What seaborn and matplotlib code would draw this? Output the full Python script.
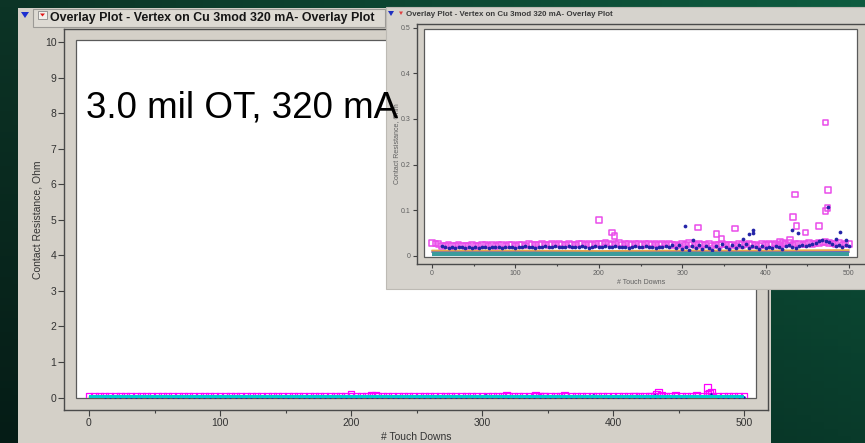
import matplotlib
matplotlib.use("Agg")
import matplotlib.pyplot as plt
from matplotlib.patches import Rectangle, Polygon
from matplotlib.ticker import MultipleLocator
import numpy as np
import pandas as pd
import seaborn as sns

# ---------------------------------------------------------------- readings
# touch-down index of each logged reading (every 4th touch down)
touch_downs = list(range(0, 501, 4))
# pin A contact resistance, Ohm (open squares)
pin_a = [
    0.028, 0.027, 0.026, 0.022, 0.023, 0.024, 0.022, 0.023, 0.025, 0.023,
    0.022, 0.023, 0.024, 0.022, 0.023, 0.025, 0.024, 0.023, 0.024, 0.022,
    0.024, 0.025, 0.023, 0.024, 0.025, 0.023, 0.024, 0.025, 0.023, 0.026,
    0.024, 0.025, 0.024, 0.026, 0.025, 0.024, 0.026, 0.025, 0.027, 0.024,
    0.025, 0.026, 0.024, 0.025, 0.026, 0.027, 0.025, 0.026, 0.024, 0.026,
    0.027, 0.026, 0.030, 0.027, 0.025, 0.026, 0.028, 0.025, 0.027, 0.026,
    0.025, 0.027, 0.026, 0.024, 0.026, 0.027, 0.025, 0.026, 0.024, 0.027,
    0.025, 0.026, 0.024, 0.025, 0.023, 0.026, 0.024, 0.028, 0.025, 0.024,
    0.026, 0.024, 0.025, 0.027, 0.023, 0.025, 0.024, 0.026, 0.025, 0.024,
    0.025, 0.023, 0.026, 0.024, 0.025, 0.027, 0.024, 0.025, 0.023, 0.026,
    0.024, 0.026, 0.025, 0.027, 0.024, 0.028, 0.026, 0.029, 0.025, 0.026,
    0.027, 0.025, 0.026, 0.028, 0.026, 0.027, 0.029, 0.030, 0.031, 0.029,
    0.027, 0.026, 0.028, 0.025, 0.027, 0.026,
]
pin_a_spike_td = [200, 216, 219, 319, 341, 347, 363, 417, 429, 433, 435,
                  437, 448, 464, 472, 472, 474, 475]
pin_a_spike = [0.079, 0.051, 0.044, 0.062, 0.048, 0.037, 0.060, 0.032,
               0.035, 0.085, 0.135, 0.066, 0.051, 0.066, 0.292, 0.098,
               0.105, 0.144]

# pin B contact resistance, Ohm (filled dots), logged from touch down 12
pin_b_td = list(range(12, 501, 4))
pin_b = [
    0.021, 0.019, 0.018, 0.019, 0.018, 0.019, 0.020, 0.018, 0.019, 0.018,
    0.019, 0.018, 0.020, 0.019, 0.018, 0.019, 0.020, 0.019, 0.018, 0.019,
    0.020, 0.019, 0.018, 0.020, 0.019, 0.021, 0.019, 0.020, 0.018, 0.020,
    0.019, 0.021, 0.020, 0.019, 0.021, 0.020, 0.019, 0.020, 0.021, 0.019,
    0.020, 0.019, 0.021, 0.020, 0.018, 0.020, 0.021, 0.019, 0.020, 0.022,
    0.020, 0.019, 0.021, 0.020, 0.019, 0.020, 0.018, 0.020, 0.021, 0.019,
    0.020, 0.021, 0.019, 0.020, 0.018, 0.020, 0.019, 0.021, 0.020, 0.023,
    0.018, 0.024, 0.016, 0.020, 0.014, 0.022, 0.017, 0.025, 0.015, 0.021,
    0.018, 0.014, 0.022, 0.016, 0.026, 0.019, 0.015, 0.023, 0.018, 0.024,
    0.020, 0.026, 0.017, 0.022, 0.019, 0.016, 0.021, 0.018, 0.020, 0.017,
    0.022, 0.019, 0.016, 0.021, 0.024, 0.020, 0.018, 0.022, 0.025, 0.021,
    0.023, 0.026, 0.029, 0.032, 0.034, 0.033, 0.030, 0.026, 0.022, 0.024,
    0.020, 0.023, 0.021,
]
pin_b_spike_td = [303, 313, 373, 380, 385, 385, 432, 439, 475, 485, 489, 497]
pin_b_spike = [0.066, 0.035, 0.038, 0.048, 0.050, 0.057, 0.057, 0.051,
               0.107, 0.038, 0.052, 0.035]

# reference channels, Ohm
ref_td = [0, 100, 200, 300, 400, 500]
pin_c = [0.004, 0.004, 0.004, 0.004, 0.004, 0.004]   # shorted reference
pin_d = [0.012, 0.012, 0.011, 0.012, 0.012, 0.013]
pin_e = [0.009, 0.009, 0.009, 0.009, 0.009, 0.009]

main_yticks = list(range(0, 11))
inset_yticks = [0, 0.1, 0.2, 0.3, 0.4, 0.5]
inset_ylabels = ["0", "0.1", "0.2", "0.3", "0.4", "0.5"]
x_ticks = [0, 100, 200, 300, 400, 500]

title = "Overlay Plot - Vertex on Cu 3mod 320 mA- Overlay Plot"
note = "3.0 mil OT, 320 mA"

squares = pd.DataFrame({"touch": touch_downs + pin_a_spike_td,
                        "ohm": pin_a + pin_a_spike})
dots = pd.DataFrame({"touch": pin_b_td + pin_b_spike_td,
                     "ohm": pin_b + pin_b_spike})

# ---------------------------------------------------------------- figure
W, H, DPI = 865, 443, 100
sns.set_style("white")
plt.rcParams["font.family"] = ["Liberation Sans", "DejaVu Sans"]

fig = plt.figure(figsize=(W / DPI, H / DPI), dpi=DPI)


def frac_rect(l, t, r, b):
    return [l / W, 1 - b / H, (r - l) / W, (b - t) / H]


def fig_rect(l, t, r, b, **kw):
    x, y, w, h = frac_rect(l, t, r, b)
    fig.add_artist(Rectangle((x, y), w, h, transform=fig.transFigure, **kw))


def fig_poly(pts, **kw):
    fig.add_artist(Polygon([(px / W, 1 - py / H) for px, py in pts],
                           closed=True, transform=fig.transFigure, **kw))


# slide background: dark green gradient
bg = fig.add_axes([0, 0, 1, 1], zorder=-20)
tl, tr = np.array([12, 52, 38]), np.array([14, 92, 64])
bl, br = np.array([5, 28, 22]), np.array([9, 58, 42])
u = np.linspace(0, 1, 64)[None, :, None]
v = np.linspace(0, 1, 64)[:, None, None]
grad = (tl * (1 - u) * (1 - v) + tr * u * (1 - v) + bl * (1 - u) * v + br * u * v) / 255
bg.imshow(grad, extent=[0, 1, 0, 1], aspect="auto", origin="upper")
bg.set_axis_off()

PANEL = "#d4d0c8"


def style_axes(ax, xlim, ylim, white_frac, yticks, ylabels, fs, tick_len,
               label_color, xlabel_y, ylabel_x):
    ax.set_facecolor(PANEL)
    white = Rectangle(white_frac[:2], white_frac[2], white_frac[3],
                      transform=ax.transAxes, fc="white", ec="#5a5a5a",
                      lw=0.9, zorder=0.5)
    ax.add_patch(white)
    ax.set_xlim(*xlim)
    ax.set_ylim(*ylim)
    ax.set_xticks(x_ticks)
    ax.xaxis.set_minor_locator(MultipleLocator(50))
    ax.set_yticks(yticks)
    ax.set_yticklabels(ylabels)
    ax.tick_params(axis="both", which="major", direction="out",
                   length=tick_len, width=0.8, colors="#404040",
                   labelcolor=label_color, labelsize=fs, pad=1.5)
    ax.tick_params(axis="x", which="minor", direction="out",
                   length=tick_len * 0.6, width=0.8, colors="#404040")
    ax.tick_params(bottom=True, left=True, which="both")
    ax.tick_params(axis="y", which="minor", left=False)
    for sp in ax.spines.values():
        sp.set_color("#4a4a4a")
        sp.set_linewidth(1.0)
    ax.set_xlabel("# Touch Downs", fontsize=fs, color=label_color)
    ax.set_ylabel("Contact Resistance, Ohm", fontsize=fs, color=label_color)
    ax.xaxis.label.set_va("center")
    ax.yaxis.label.set_va("center")
    ax.xaxis.set_label_coords(0.5, xlabel_y)
    ax.yaxis.set_label_coords(ylabel_x, 0.5)
    return white


def draw_series(ax, clip, st):
    for x, y, c, lw in ((ref_td, pin_e, st["e"], st["thin"]),
                        (ref_td, pin_d, st["d"], st["thin"])):
        sns.lineplot(x=x, y=y, ax=ax, color=c, lw=lw, estimator=None,
                     legend=False, zorder=1.5)
        ax.lines[-1].set_clip_path(clip)
    sns.scatterplot(data=squares, x="touch", y="ohm", ax=ax, marker="s",
                    s=st["sq"] ** 2, color=st["a"], edgecolor=st["a"],
                    linewidth=st["sq_lw"], legend=False, zorder=2)
    coll = ax.collections[-1]
    coll.set_facecolor("none")
    coll.set_clip_path(clip)
    sns.scatterplot(data=dots, x="touch", y="ohm", ax=ax, marker="o",
                    s=st["dot"] ** 2, color=st["b"], edgecolor=st["b"],
                    linewidth=0, legend=False, zorder=2.5)
    ax.collections[-1].set_clip_path(clip)
    sns.lineplot(x=ref_td, y=pin_c, ax=ax, color=st["c"], lw=st["band"],
                 estimator=None, legend=False, zorder=3)
    ax.lines[-1].set_clip_path(clip)
    ax.lines[-1].set_solid_capstyle("butt")


# ---------------------------------------------------------------- main report
fig_rect(18, 8, 771, 443, fc=PANEL, ec="none", zorder=-5)
fig_rect(33, 9, 385, 27, fc="#dddad3", ec="#9c9a96", lw=0.8, zorder=-4)
fig_poly([(21, 12), (29, 12), (25, 18)], fc="#1c2fd0", ec="none", zorder=-4)
fig_rect(38, 11, 47, 19, fc="#f2f0ec", ec="#8a8a8a", lw=0.6, zorder=-4)
fig_poly([(40, 13.5), (45, 13.5), (42.5, 16.5)], fc="#e01818", ec="none", zorder=-3)
fig.text(50 / W, 1 - 18 / H, title, fontsize=8.9, color="#151515",
         va="center", ha="left", weight="bold", zorder=-3)

ax = fig.add_axes(frac_rect(64, 29, 768, 410), zorder=0)
mx0, mpx = 89.0, 1.31
my0, mpy = 397.5, 35.55
main_white = style_axes(
    ax,
    xlim=((64 - mx0) / mpx, (768 - mx0) / mpx),
    ylim=((my0 - 410) / mpy, (my0 - 29) / mpy),
    white_frac=(12 / 704, 12 / 381, 680 / 704, 358 / 381),
    yticks=main_yticks, ylabels=[str(t) for t in main_yticks],
    fs=7.5, tick_len=4, label_color="#333333",
    xlabel_y=(410 - 437) / 381, ylabel_x=(37 - 64) / 704)
draw_series(ax, main_white, dict(a="#ff00ff", b="#1010c0", c="#00cccc",
                                 d="#f0a020", e="#6040c0", sq=5.0, sq_lw=0.9,
                                 dot=1.8, band=2.9, thin=1.0))

# ---------------------------------------------------------------- zoomed report
fig_rect(386, 7, 866, 289, fc="#d6d3cd", ec="#bdbab4", lw=0.8, zorder=5)
fig_poly([(388, 11), (394, 11), (391, 16)], fc="#2030c0", ec="none", zorder=5.5)
fig_poly([(399, 11.5), (403, 11.5), (401, 15)], fc="#e04040", ec="none", zorder=5.5)
fig.text(406 / W, 1 - 14 / H, title, fontsize=5.7, color="#3a3a3a",
         va="center", ha="left", weight="bold", zorder=5.5)

ins = fig.add_axes(frac_rect(417, 24, 866, 264), zorder=6)
ix0, ipx = 432.0, 0.834
iy0, ipy = 256.0, 457.0
ins_white = style_axes(
    ins,
    xlim=((417 - ix0) / ipx, (866 - ix0) / ipx),
    ylim=((iy0 - 264) / ipy, (iy0 - 24) / ipy),
    white_frac=(7 / 449, 7.5 / 240, 433 / 449, 227.5 / 240),
    yticks=inset_yticks, ylabels=inset_ylabels,
    fs=5, tick_len=3, label_color="#606060",
    xlabel_y=(264 - 283) / 240, ylabel_x=(397 - 417) / 449)
draw_series(ins, ins_white, dict(a="#ea4cea", b="#2424a8", c="#3a9c9c",
                                 d="#e8a848", e="#7050b0", sq=4.0, sq_lw=1.1,
                                 dot=2.7, band=3.0, thin=1.3))

# ---------------------------------------------------------------- annotation
fig.text(86 / W, 1 - 117 / H, note, fontsize=26.5, color="black",
         va="baseline", ha="left", zorder=10)

fig.savefig("out.png", dpi=DPI)
